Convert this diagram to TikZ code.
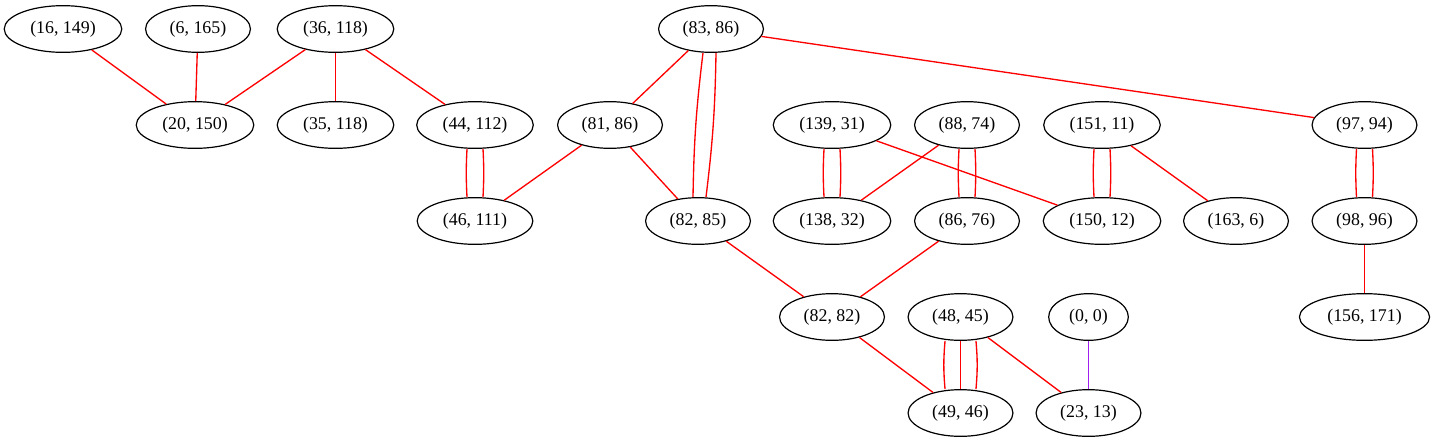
\documentclass[tikz,border=0pt]{standalone}
\usepackage{fontspec}
\setmainfont{Liberation Serif}
\usetikzlibrary{shapes.geometric}
\definecolor{gvpurple}{HTML}{A020F0}

\begin{document}
\begin{tikzpicture}[x=0.75pt, y=-0.75pt,
  pt/.style={ellipse, draw, line width=0.9pt, inner xsep=6.6pt, inner ysep=2pt,
    minimum height=35pt, font=\fontsize{13.4}{16}\selectfont},
  link/.style={red, line width=1pt}]
\useasboundingbox (0,0) rectangle (1434,443);
% Offset of the parallel edges
\pgfmathsetmacro{\dsep}{6}
\pgfmathsetmacro{\tsep}{11.6}

% First row
\node[pt] (n16x149) at (63,29) {(16, 149)};
\node[pt] (n6x165) at (198,29) {(6, 165)};
\node[pt] (n36x118) at (335.5,29) {(36, 118)};
\node[pt] (n83x86) at (711,29) {(83, 86)};
% Second row
\node[pt] (n20x150) at (195,125) {(20, 150)};
\node[pt] (n35x118) at (335.5,125) {(35, 118)};
\node[pt] (n44x112) at (475,125) {(44, 112)};
\node[pt] (n81x86) at (610,125) {(81, 86)};
\node[pt] (n139x31) at (832,125) {(139, 31)};
\node[pt] (n88x74) at (967,125) {(88, 74)};
\node[pt] (n151x11) at (1102,125) {(151, 11)};
\node[pt] (n97x94) at (1364.5,125) {(97, 94)};
% Third row
\node[pt] (n46x111) at (475,221) {(46, 111)};
\node[pt] (n82x85) at (698,221) {(82, 85)};
\node[pt] (n138x32) at (832,221) {(138, 32)};
\node[pt] (n86x76) at (967,221) {(86, 76)};
\node[pt] (n150x12) at (1102,221) {(150, 12)};
\node[pt] (n163x6) at (1236,221) {(163, 6)};
\node[pt] (n98x96) at (1364.5,221) {(98, 96)};
% Fourth row
\node[pt] (n82x82) at (832,317) {(82, 82)};
\node[pt] (n48x45) at (960.5,317) {(48, 45)};
\node[pt] (n0x0) at (1088.5,317) {(0, 0)};
\node[pt] (n156x171) at (1364.5,317) {(156, 171)};
% Fifth row
\node[pt] (n49x46) at (960.5,413) {(49, 46)};
\node[pt] (n23x13) at (1088.5,413) {(23, 13)};

% Single edges
\draw[link] (n16x149) -- (n20x150);
\draw[link] (n6x165) -- (n20x150);
\draw[link] (n36x118) -- (n20x150);
\draw[link] (n36x118) -- (n35x118);
\draw[link] (n36x118) -- (n44x112);
\draw[link] (n83x86) -- (n81x86);
\draw[link] (n83x86) -- (n97x94);
\draw[link] (n81x86) -- (n46x111);
\draw[link] (n81x86) -- (n82x85);
\draw[link] (n139x31) -- (n150x12);
\draw[link] (n88x74) -- (n138x32);
\draw[link] (n151x11) -- (n163x6);
\draw[link] (n98x96) -- (n156x171);
\draw[link] (n82x85) -- (n82x82);
\draw[link] (n86x76) -- (n82x82);
\draw[link] (n82x82) -- (n49x46);
\draw[link] (n48x45) -- (n23x13);
\draw[gvpurple, line width=1pt] (n0x0) -- (n23x13);

% Double edges
\foreach \a/\b in {n44x112/n46x111, n139x31/n138x32, n88x74/n86x76,
  n151x11/n150x12, n97x94/n98x96}{
  \draw[link] ([xshift=-\dsep pt]\a.south) to[bend right=3] ([xshift=-\dsep pt]\b.north);
  \draw[link] ([xshift=\dsep pt]\a.south) to[bend left=3] ([xshift=\dsep pt]\b.north);
}
\draw[link] ([xshift=-6pt]n83x86.south) to[bend right=3] ([xshift=-3.75pt]n82x85.north);
\draw[link] ([xshift=3.75pt]n83x86.south) to[bend left=3] ([xshift=6pt]n82x85.north);

% Triple edge
\draw[link] ([xshift=-\tsep pt]n48x45.south) to[bend right=5] ([xshift=-\tsep pt]n49x46.north);
\draw[link] (n48x45) -- (n49x46);
\draw[link] ([xshift=\tsep pt]n48x45.south) to[bend left=5] ([xshift=\tsep pt]n49x46.north);

\end{tikzpicture}
\end{document}
